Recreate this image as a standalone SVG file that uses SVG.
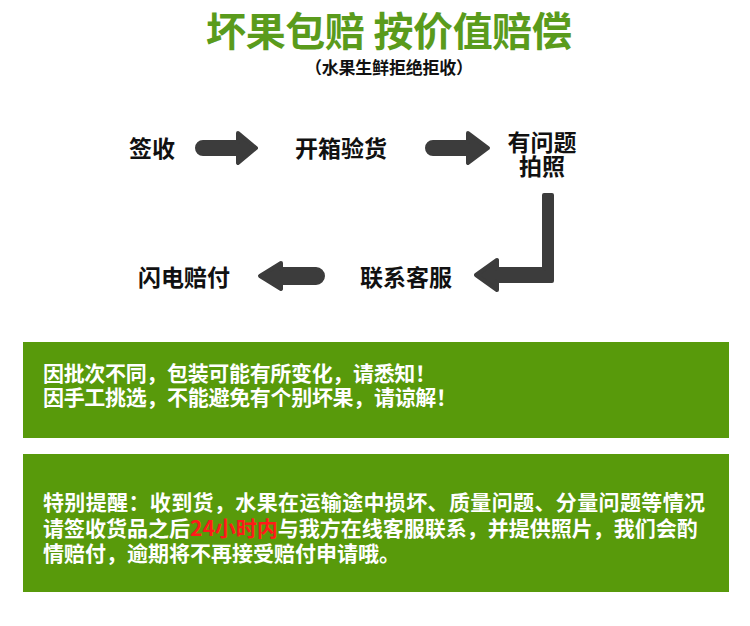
<svg xmlns="http://www.w3.org/2000/svg" width="750" height="626" viewBox="0 0 750 626">
<style>
.cjk{font-family:"Noto Sans CJK SC","Noto Sans",sans-serif;font-weight:bold}
.node{font-size:23px;fill:#111;text-anchor:middle}
.arrow{fill:#3c3c3c;stroke:#3c3c3c;stroke-width:4;stroke-linejoin:round;stroke-linecap:round}
.box{fill:#589a0b}
.bt{fill:#fff;font-size:21px}
</style>
<rect width="750" height="626" fill="#fff"/>
<g id="title">
<text class="cjk" x="389" y="46" font-size="40" fill="#5a9b1c" text-anchor="middle" textLength="366">坏果包赔 按价值赔偿</text>
<text class="cjk" x="389" y="74" font-size="17" fill="#111" text-anchor="middle" textLength="168">（水果生鲜拒绝拒收）</text>
</g>
<g id="n1"><text class="cjk node" x="152" y="157">签收</text></g>
<g id="n2"><text class="cjk node" x="341" y="157">开箱验货</text></g>
<g id="n3"><text class="cjk node" x="542" y="151">有问题</text><text class="cjk node" x="542" y="175">拍照</text></g>
<g id="n4"><text class="cjk node" x="406" y="286">联系客服</text></g>
<g id="n5"><text class="cjk node" x="184" y="286">闪电赔付</text></g>
<g id="connectors">
<path class="arrow" d="M203,142 H238 V133 L256,148 L238,163 V154 H203 A6,6 0 0 1 203,142 Z"/>
<path class="arrow" d="M433,142 H468 V133 L488,148 L468,163 V154 H433 A6,6 0 0 1 433,142 Z"/>
<path class="arrow" d="M544,195 H552 V281 H497 V290 L476,275 L497,260 V269 H544 Z"/>
<path class="arrow" d="M316,269 H281 V263 L260,276 L281,289 V283 H316 A7,7 0 0 0 316,269 Z"/>
</g>
<g id="notice1">
<rect class="box" x="23" y="342" width="706" height="96"/>
<text class="cjk bt" x="43" y="381" textLength="393">因批次不同，包装可能有所变化，请悉知！</text>
<text class="cjk bt" x="43" y="405" textLength="414">因手工挑选，不能避免有个别坏果，请谅解！</text>
</g>
<g id="notice2">
<rect class="box" x="23" y="454" width="706" height="138"/>
<text class="cjk bt" x="43" y="510" font-size="22" textLength="662">特别提醒：收到货，水果在运输途中损坏、质量问题、分量问题等情况</text>
<text class="cjk bt" x="43" y="536"><tspan>请签收货品之后</tspan><tspan fill="#ff1a1a">24小时内</tspan><tspan>与我方在线客服联系，并提供照片，我们会酌</tspan></text>
<text class="cjk bt" x="43" y="561">情赔付，逾期将不再接受赔付申请哦。</text>
</g>
</svg>
